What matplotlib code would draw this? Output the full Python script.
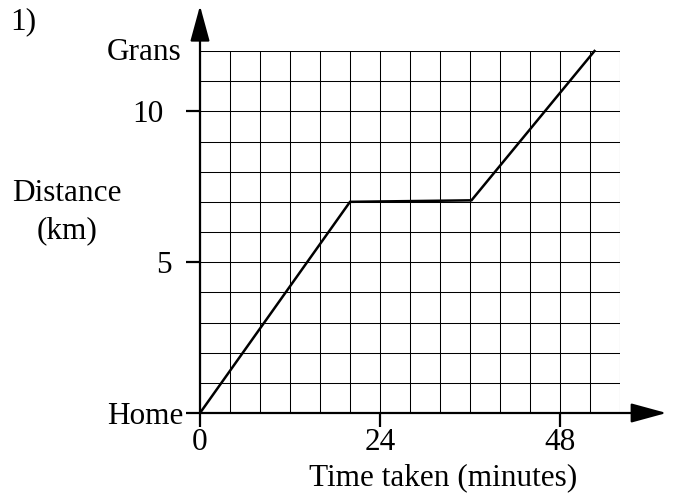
import matplotlib
matplotlib.use("Agg")
import matplotlib.pyplot as plt
import numpy as np

# Data
time_min = [0, 20, 36.2, 52.6]
distance_km = [0, 7.0, 7.05, 12.0]
x_tick_vals = [0, 24, 48]
x_tick_labels = ["0", "24", "48"]
y_tick_vals = [0, 5, 10]
y_tick_labels = ["Home", "5", "10"]
x_max, y_max = 56, 12
x_step, y_step = 4, 1

plt.rcParams['font.family'] = ['Liberation Serif', 'DejaVu Serif']
FS = 22.5

fig = plt.figure(figsize=(6.8, 5.0), dpi=100)
ax = fig.add_axes([200/680, 87/500, 420/680, 362/500])
ax.set_xlim(0, x_max)
ax.set_ylim(0, y_max)

for s in ax.spines.values():
    s.set_visible(False)

ax.set_xticks(np.arange(0, x_max + 0.1, x_step), minor=True)
ax.set_yticks(np.arange(0, y_max + 0.1, y_step), minor=True)
ax.set_xticks(x_tick_vals)
ax.set_xticklabels(x_tick_labels)
ax.set_yticks(y_tick_vals)
ax.set_yticklabels(y_tick_labels)
ax.tick_params(which='minor', length=0)
ax.tick_params(which='major', length=10, width=1.6, color='black',
               labelsize=FS, direction='out')
ax.tick_params(axis='y', which='major', pad=10)
ax.tick_params(axis='x', which='major', pad=1)
yt = ax.yaxis.get_major_ticks()
yt[0].set_pad(2)
yt[2].set_pad(16)
ax.grid(which='both', color='black', lw=0.75)
ax.set_axisbelow(True)

# axes with arrows
arrow_style = '-|>,head_length=2.2,head_width=0.6'
ax.annotate('', xy=(62.2, 0), xytext=(0, 0), annotation_clip=False,
            arrowprops=dict(arrowstyle=arrow_style, color='black', lw=1.6,
                            shrinkA=0, shrinkB=0))
ax.annotate('', xy=(0, 13.5), xytext=(0, 0), annotation_clip=False,
            arrowprops=dict(arrowstyle=arrow_style, color='black', lw=1.6,
                            shrinkA=0, shrinkB=0))

ax.plot(time_min, distance_km, color='black', lw=1.8, solid_joinstyle='miter',
        clip_on=False, zorder=5)

ax.text(-2.5, 11.95, "Grans", ha='right', va='center', fontsize=FS)
fig.text(67/680, 1 - 212/500, "Distance\n(km)", ha='center', va='center',
         fontsize=FS, linespacing=1.35)
fig.text(10/680, 1 - 22/500, "1)", ha='left', va='center', fontsize=FS)
ax.set_xlabel("Time taken (minutes)", fontsize=FS)
ax.xaxis.set_label_coords(0.58, -0.138)

fig.savefig("out.png", dpi=100)
